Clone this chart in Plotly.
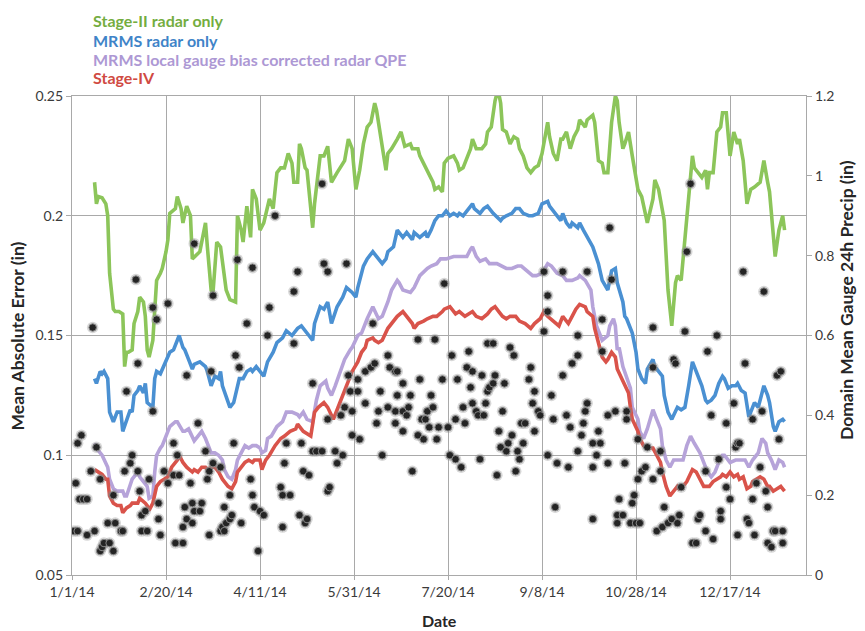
import pandas as pd
import plotly.graph_objects as go

START = pd.Timestamp("2014-01-01")

# (day offset from 1/1/14, mean absolute error in inches)
STAGE2 = [
    (12, .214), (13, .205), (14, .208), (16, .2075), (18, .205), (19, .200), (20, .176), (22, .161),
    (23, .160), (25, .160), (27, .159), (28, .137), (29, .143), (30, .143), (32, .144), (33, .155),
    (35, .160), (36, .166), (38, .164), (39, .158), (40, .144), (41, .141), (43, .148), (44, .162),
    (45, .173), (47, .176), (48, .178), (50, .185), (51, .190), (52, .201), (55, .203), (56, .208),
    (58, .203), (59, .197), (61, .204), (63, .200), (64, .182), (68, .185), (71, .197), (72, .187),
    (74, .169), (75, .168), (77, .189), (79, .187), (80, .180), (82, .169), (84, .165), (87, .164),
    (88, .200), (90, .194), (91, .189), (93, .204), (95, .191), (96, .211), (98, .207), (100, .194),
    (102, .197), (104, .204), (105, .207), (107, .203), (109, .218), (111, .220), (113, .220),
    (115, .226), (117, .222), (118, .214), (120, .214), (121, .230), (122, .228), (124, .220),
    (125, .219), (128, .195), (129, .205), (132, .225), (134, .225), (136, .229), (138, .214),
    (141, .218), (144, .222), (145, .223), (147, .232), (149, .228), (151, .211), (153, .219),
    (155, .230), (157, .237), (159, .239), (160, .244), (161, .247), (162, .244), (163, .239),
    (165, .229), (167, .219), (168, .226), (170, .228), (173, .232), (175, .235), (177, .229),
    (180, .230), (181, .228), (184, .228), (185, .225), (189, .219), (192, .214), (193, .211),
    (195, .212), (197, .210), (198, .222), (200, .224), (203, .225), (205, .222), (206, .219),
    (208, .220), (212, .228), (213, .232), (215, .228), (218, .228), (220, .230), (221, .235),
    (223, .237), (225, .248), (226, .251), (227, .251), (228, .247), (229, .236), (231, .235),
    (233, .230), (235, .233), (237, .232), (238, .228), (240, .225), (242, .220), (244, .218),
    (246, .220), (248, .221), (250, .226), (253, .239), (254, .233), (256, .226), (258, .223),
    (260, .232), (261, .232), (263, .235), (265, .228), (267, .233), (269, .236), (270, .240),
    (273, .237), (274, .240), (277, .242), (278, .239), (280, .223), (282, .222), (283, .218),
    (285, .218), (287, .239), (289, .250), (290, .248), (291, .239), (293, .228), (294, .230),
    (296, .235), (298, .225), (300, .216), (301, .211), (303, .208), (305, .201), (306, .197),
    (309, .207), (310, .215), (312, .211), (314, .201), (315, .198), (317, .169), (319, .154),
    (321, .172), (322, .175), (324, .173), (326, .190), (328, .211), (330, .225), (331, .220),
    (333, .218), (335, .216), (337, .219), (338, .211), (339, .218), (341, .218), (343, .235),
    (345, .237), (346, .243), (348, .243), (350, .225), (352, .235), (354, .230), (355, .232),
    (357, .223), (359, .205), (361, .211), (363, .212), (366, .214), (368, .223), (370, .214),
    (371, .210), (374, .183), (376, .194), (378, .200), (379, .194),
]

MRMS_RADAR = [
    (12, .132), (13, .130), (15, .135), (16, .134), (17, .135), (19, .132), (20, .118), (22, .114),
    (24, .118), (26, .118), (27, .110), (29, .114), (31, .119), (32, .118), (33, .125), (35, .127),
    (36, .129), (38, .126), (39, .130), (40, .122), (43, .120), (44, .132), (45, .135), (47, .134),
    (48, .136), (51, .141), (52, .143), (54, .144), (56, .148), (57, .150), (59, .145), (60, .144),
    (62, .140), (64, .136), (65, .138), (68, .139), (71, .137), (72, .135), (74, .129), (76, .133),
    (78, .132), (79, .135), (80, .129), (82, .125), (84, .120), (86, .122), (88, .129), (89, .132),
    (91, .132), (93, .135), (95, .136), (96, .135), (98, .137), (100, .135), (102, .133), (104, .139),
    (107, .143), (109, .147), (112, .149), (114, .152), (117, .150), (120, .153), (122, .154),
    (126, .150), (128, .148), (129, .155), (132, .162), (134, .161), (136, .164), (138, .155),
    (141, .162), (144, .166), (146, .170), (149, .168), (151, .166), (152, .170), (155, .179),
    (157, .182), (160, .185), (161, .184), (163, .182), (165, .180), (167, .182), (168, .185),
    (171, .187), (173, .194), (176, .191), (178, .193), (181, .190), (182, .193), (185, .191),
    (188, .193), (189, .191), (191, .194), (193, .198), (195, .200), (197, .200), (199, .202),
    (201, .200), (203, .201), (205, .200), (206, .201), (208, .200), (211, .203), (213, .205),
    (214, .203), (217, .201), (219, .203), (221, .204), (222, .203), (224, .201), (228, .198),
    (229, .199), (231, .200), (234, .201), (236, .203), (238, .203), (240, .201), (243, .200),
    (245, .200), (248, .201), (250, .205), (253, .206), (254, .204), (257, .201), (260, .198),
    (261, .201), (263, .197), (265, .195), (266, .197), (269, .195), (270, .197), (272, .194),
    (274, .191), (277, .187), (280, .180), (282, .173), (285, .169), (287, .177), (289, .178),
    (290, .172), (293, .164), (294, .158), (295, .157), (298, .151), (300, .143), (301, .136),
    (303, .132), (305, .130), (306, .136), (309, .140), (310, .137), (312, .135), (314, .133),
    (315, .125), (317, .118), (319, .115), (321, .119), (322, .120), (324, .119), (326, .120),
    (328, .129), (330, .139), (331, .137), (333, .133), (335, .129), (337, .123), (338, .122),
    (340, .123), (342, .125), (344, .130), (346, .133), (347, .132), (349, .128), (351, .129),
    (353, .129), (354, .130), (356, .127), (358, .126), (360, .116), (362, .120), (363, .122),
    (365, .120), (367, .126), (368, .129), (370, .125), (371, .122), (373, .112), (374, .110),
    (376, .114), (378, .115), (379, .114),
]

MRMS_GAUGE_CORR = [
    (12, .105), (13, .103), (15, .101), (16, .100), (19, .095), (20, .090), (22, .086), (24, .085),
    (27, .085), (28, .083), (29, .083), (31, .087), (32, .090), (35, .093), (36, .091), (38, .089),
    (40, .087), (41, .082), (43, .083), (44, .093), (45, .100), (47, .103), (48, .104), (51, .110),
    (52, .112), (55, .114), (56, .114), (59, .110), (60, .110), (62, .111), (64, .107), (65, .106),
    (67, .108), (69, .110), (71, .107), (72, .105), (74, .101), (76, .101), (78, .100), (80, .098),
    (81, .094), (83, .091), (85, .090), (87, .094), (88, .098), (90, .101), (92, .104), (94, .103),
    (96, .104), (98, .104), (100, .103), (101, .101), (103, .102), (104, .107), (106, .108),
    (109, .112), (112, .114), (114, .118), (117, .118), (120, .117), (121, .116), (123, .118),
    (125, .115), (128, .114), (130, .123), (132, .129), (135, .131), (136, .128), (138, .125),
    (140, .129), (143, .135), (145, .140), (148, .144), (149, .145), (152, .150), (154, .151),
    (157, .157), (159, .161), (160, .162), (163, .157), (165, .158), (168, .164), (170, .169),
    (173, .173), (174, .172), (176, .169), (180, .168), (182, .170), (185, .175), (189, .178),
    (191, .179), (194, .180), (196, .182), (199, .182), (203, .183), (206, .183), (210, .183),
    (212, .186), (213, .187), (215, .183), (217, .181), (220, .182), (222, .180), (226, .180),
    (229, .179), (231, .178), (234, .178), (237, .179), (239, .179), (242, .177), (245, .175),
    (247, .175), (250, .176), (253, .180), (255, .179), (258, .176), (261, .175), (263, .173),
    (266, .173), (269, .174), (270, .175), (273, .173), (276, .169), (277, .162), (279, .154),
    (281, .150), (282, .148), (285, .150), (286, .154), (288, .157), (289, .154), (290, .144),
    (291, .145), (293, .137), (295, .132), (297, .128), (298, .120), (301, .115), (302, .110),
    (304, .107), (306, .111), (307, .114), (309, .119), (311, .115), (313, .111), (314, .104),
    (316, .098), (318, .095), (320, .098), (322, .098), (325, .098), (327, .104), (329, .108),
    (331, .105), (334, .101), (336, .097), (338, .093), (340, .091), (342, .093), (344, .097),
    (346, .100), (347, .100), (350, .097), (353, .098), (355, .098), (358, .098), (360, .095),
    (362, .098), (365, .101), (367, .107), (369, .105), (370, .101), (372, .098), (374, .094),
    (376, .098), (378, .097), (379, .095),
]

STAGE4 = [
    (12, .094), (14, .093), (16, .092), (18, .090), (19, .090), (20, .083), (22, .080), (24, .079),
    (26, .079), (27, .076), (29, .078), (31, .079), (32, .080), (35, .080), (36, .082), (39, .080),
    (40, .079), (41, .077), (43, .080), (45, .087), (47, .089), (49, .090), (51, .091), (53, .095),
    (56, .098), (57, .100), (59, .097), (61, .095), (64, .093), (65, .094), (67, .093), (69, .095),
    (71, .095), (72, .094), (74, .095), (76, .095), (78, .093), (80, .090), (83, .087), (85, .086),
    (87, .089), (88, .093), (90, .095), (92, .097), (94, .098), (96, .097), (97, .098), (100, .098),
    (101, .094), (103, .098), (105, .100), (108, .104), (111, .107), (113, .108), (116, .110),
    (119, .111), (120, .113), (123, .110), (127, .108), (129, .118), (131, .120), (134, .122),
    (136, .120), (139, .115), (141, .119), (144, .125), (146, .130), (148, .133), (149, .135),
    (152, .139), (154, .143), (156, .145), (157, .148), (160, .149), (161, .148), (163, .147),
    (165, .148), (168, .153), (170, .155), (173, .158), (176, .160), (178, .158), (181, .155),
    (182, .153), (184, .155), (187, .156), (189, .157), (192, .158), (194, .158), (197, .160),
    (198, .161), (201, .162), (204, .159), (206, .160), (209, .158), (213, .160), (215, .158),
    (218, .157), (221, .159), (223, .161), (225, .162), (227, .160), (229, .158), (231, .157),
    (233, .158), (236, .158), (238, .156), (241, .155), (244, .153), (246, .155), (249, .157),
    (251, .160), (253, .158), (256, .156), (259, .154), (261, .158), (264, .155), (266, .158),
    (268, .161), (270, .163), (273, .162), (274, .160), (277, .158), (278, .153), (280, .147),
    (282, .141), (284, .139), (285, .140), (287, .143), (289, .141), (290, .136), (293, .131),
    (294, .129), (296, .126), (297, .120), (298, .115), (301, .110), (302, .107), (304, .104),
    (306, .103), (307, .103), (309, .103), (311, .100), (313, .097), (314, .093), (316, .087),
    (318, .083), (320, .085), (322, .087), (323, .086), (325, .087), (327, .089), (329, .093),
    (330, .094), (332, .093), (334, .090), (336, .087), (338, .087), (339, .087), (341, .089),
    (343, .090), (345, .091), (346, .092), (348, .091), (350, .093), (352, .091), (354, .092),
    (355, .090), (357, .091), (359, .086), (361, .087), (362, .089), (364, .090), (366, .091),
    (368, .090), (370, .087), (371, .087), (373, .085), (375, .086), (377, .087), (378, .086),
    (379, .085),
]

# (day offset, domain mean gauge 24h precip in inches)
GAUGE = [
    (1, .11), (2, .23), (3, .33), (3, .11), (4, .19), (5, .35), (6, .19), (8, .19), (8, .10),
    (10, .26), (11, .62), (12, .11), (13, .32), (15, .24), (15, .06), (16, .07), (17, .08),
    (19, .13), (20, .08), (22, .20), (22, .06), (23, .13), (26, .11), (27, .11), (28, .26),
    (29, .46), (31, .28), (32, .30), (34, .74), (35, .53), (35, .26), (36, .21), (37, .15),
    (37, .11), (39, .16), (40, .11), (41, .24), (43, .67), (43, .41), (45, .64), (46, .18),
    (46, .14), (47, .10), (49, .26), (51, .68), (51, .23), (54, .33), (54, .25), (55, .08),
    (56, .30), (57, .25), (59, .12), (59, .08), (60, .17), (61, .50), (61, .14), (63, .23),
    (64, .18), (64, .13), (65, .83), (65, .16), (67, .38), (68, .16), (69, .18), (71, .31),
    (72, .24), (73, .26), (73, .10), (74, .51), (75, .70), (75, .28), (79, .27), (79, .11),
    (80, .12), (81, .17), (81, .11), (82, .13), (84, .20), (84, .14), (85, .15), (86, .33),
    (87, .55), (88, .79), (89, .52), (90, .13), (93, .63), (95, .24), (96, .77), (96, .20),
    (97, .17), (99, .06), (100, .16), (102, .15), (104, .60), (105, .67), (108, .90), (111, .22),
    (112, .20), (112, .12), (113, .28), (114, .33), (116, .20), (118, .71), (118, .58), (120, .76),
    (121, .15), (122, .33), (123, .26), (124, .13), (125, .14), (126, .25), (128, .48), (128, .31),
    (130, .31), (133, .98), (133, .31), (134, .78), (136, .76), (136, .39), (136, .21), (137, .22),
    (140, .31), (141, .28), (143, .40), (144, .30), (145, .42), (146, .78), (147, .50), (148, .46),
    (149, .41), (149, .35), (152, .49), (152, .46), (153, .34), (156, .51), (156, .43), (159, .52),
    (160, .63), (161, .53), (162, .38), (163, .41), (164, .46), (165, .30), (168, .55), (168, .42),
    (169, .52), (172, .51), (172, .41), (172, .38), (173, .51), (173, .45), (176, .48), (176, .41),
    (176, .36), (178, .40), (179, .42), (180, .45), (181, .26), (184, .59), (184, .35), (185, .49),
    (186, .39), (187, .34), (188, .39), (189, .41), (190, .37), (191, .45), (192, .42), (193, .59),
    (194, .34), (195, .37), (197, .49), (198, .73), (200, .37), (201, .30), (202, .55), (204, .39),
    (204, .29), (205, .49), (207, .27), (208, .42), (209, .38), (210, .52), (211, .56), (212, .47),
    (213, .51), (213, .43), (215, .41), (216, .40), (217, .29), (218, .50), (219, .40), (220, .43),
    (221, .58), (221, .46), (222, .47), (224, .58), (224, .48), (225, .50), (226, .25), (227, .36),
    (228, .32), (229, .41), (230, .48), (231, .31), (232, .33), (233, .57), (234, .35), (235, .55),
    (236, .26), (237, .31), (238, .29), (239, .38), (240, .33), (241, .38), (243, .49), (244, .52),
    (245, .43), (246, .46), (246, .36), (248, .41), (249, .40), (251, .76), (251, .61), (253, .70),
    (253, .66), (253, .30), (255, .45), (256, .39), (257, .17), (258, .28), (261, .76), (261, .50),
    (263, .40), (264, .27), (265, .37), (266, .53), (269, .60), (269, .55), (269, .31), (271, .35),
    (272, .38), (273, .41), (274, .76), (274, .43), (277, .33), (277, .27), (277, .14), (279, .30),
    (280, .36), (281, .33), (282, .64), (282, .56), (285, .40), (285, .28), (286, .87), (287, .74),
    (289, .41), (290, .15), (290, .13), (291, .19), (293, .15), (294, .28), (295, .41), (295, .39),
    (297, .13), (298, .18), (299, .20), (300, .13), (301, .34), (301, .24), (302, .13), (303, .26),
    (305, .27), (306, .32), (309, .62), (309, .52), (309, .24), (311, .11), (313, .31), (313, .26),
    (314, .12), (315, .17), (317, .13), (319, .14), (320, .54), (321, .53), (322, .13), (323, .15),
    (324, .22), (326, .61), (327, .81), (329, .98), (330, .08), (332, .08), (333, .14), (334, .15),
    (337, .26), (337, .11), (338, .56), (340, .40), (341, .09), (343, .60), (344, .29), (345, .16),
    (345, .14), (348, .38), (348, .22), (350, .19), (352, .43), (353, .32), (354, .33), (354, .10),
    (355, .33), (357, .76), (358, .53), (359, .14), (360, .13), (362, .39), (362, .19), (363, .10),
    (364, .23), (366, .27), (367, .41), (368, .71), (369, .21), (370, .17), (370, .08), (372, .07),
    (373, .11), (374, .11), (375, .50), (376, .34), (377, .51), (378, .11), (378, .08),
]

SERIES = [
    ("Stage-II radar only", STAGE2, "#8cc55a", "#74ad3f"),
    ("MRMS radar only", MRMS_RADAR, "#4a90d2", "#3f84c8"),
    ("MRMS local gauge bias corrected radar QPE", MRMS_GAUGE_CORR, "#b6a3d9", "#ad98d4"),
    ("Stage-IV", STAGE4, "#d9534a", "#d04a42"),
]

GRID = "#a9a9a9"
FONT = "Lato, Open Sans, sans-serif"


def to_dates(days):
    return [START + pd.Timedelta(days=d) for d in days]


fig = go.Figure()

for name, data, color, _ in SERIES:
    days, vals = zip(*data)
    fig.add_trace(go.Scatter(
        x=to_dates(days), y=list(vals), mode="lines", name=name,
        line=dict(color=color, width=3.6), yaxis="y",
    ))

g_days, g_vals = zip(*GAUGE)
g_dates = to_dates(g_days)
# soft grey halo under each gauge dot
fig.add_trace(go.Scatter(
    x=g_dates, y=list(g_vals), mode="markers", yaxis="y2", hoverinfo="skip",
    marker=dict(size=11.5, color="rgba(140,140,140,0.35)", line=dict(width=0)),
))
fig.add_trace(go.Scatter(
    x=g_dates, y=list(g_vals), mode="markers", yaxis="y2", name="Gauge",
    marker=dict(size=7.5, color="#242424", line=dict(width=1, color="#8a8a8a")),
))

# the page body adds an 8px offset, so margins are shifted to compensate
fig.update_layout(
    width=865, height=631,
    margin=dict(l=64, r=67, t=88, b=64),
    paper_bgcolor="white", plot_bgcolor="white",
    showlegend=False,
    font=dict(family=FONT, size=14, color="#3a3a3a"),
    xaxis=dict(
        type="date",
        range=[START, START + pd.Timedelta(days=390.4)],
        tick0=START, dtick=50 * 86400000, tickformat="%-m/%-d/%y",
        showgrid=True, gridcolor=GRID, gridwidth=1.2,
        ticks="outside", ticklen=4, tickcolor=GRID,
        showline=True, linecolor=GRID, linewidth=1.2, mirror=True,
        zeroline=False,
    ),
    yaxis=dict(
        range=[0.05, 0.25], tick0=0.05, dtick=0.05,
        showgrid=True, gridcolor=GRID, gridwidth=1.2,
        ticks="outside", ticklen=5, tickcolor=GRID,
        showline=True, linecolor=GRID, linewidth=1.2,
        zeroline=False,
    ),
    yaxis2=dict(
        overlaying="y", side="right",
        range=[0, 1.2], tick0=0, dtick=0.2,
        showgrid=False, zeroline=False,
        ticks="outside", ticklen=5, tickcolor=GRID,
        showline=True, linecolor=GRID, linewidth=1.2,
    ),
)

title_font = dict(family=FONT, size=17.5, color="#262626")
fig.add_annotation(text="<b>Mean Absolute Error (in)</b>", xref="paper", yref="paper",
                   x=-0.0736, y=0.5, xanchor="center", yanchor="middle",
                   textangle=-90, showarrow=False, font=title_font)
fig.add_annotation(text="<b>Domain Mean Gauge 24h Precip (in)</b>", xref="paper", yref="paper",
                   x=1.0545, y=0.574, xanchor="center", yanchor="middle",
                   textangle=-90, showarrow=False, font=title_font)
fig.add_annotation(text="<b>Date</b>", xref="paper", yref="paper",
                   x=0.5, y=-0.096, xanchor="center", yanchor="middle", showarrow=False,
                   font=dict(family=FONT, size=16, color="#262626"))

legend_y = [1.1576, 1.1169, 1.0772, 1.0376]
for (name, _, _, text_color), ly in zip(SERIES, legend_y):
    fig.add_annotation(text=f"<b>{name}</b>", xref="paper", yref="paper",
                       x=0.027, y=ly, xanchor="left", yanchor="middle", showarrow=False,
                       borderpad=0,
                       font=dict(family=FONT, size=16, color=text_color))

fig.write_html("out.html")
